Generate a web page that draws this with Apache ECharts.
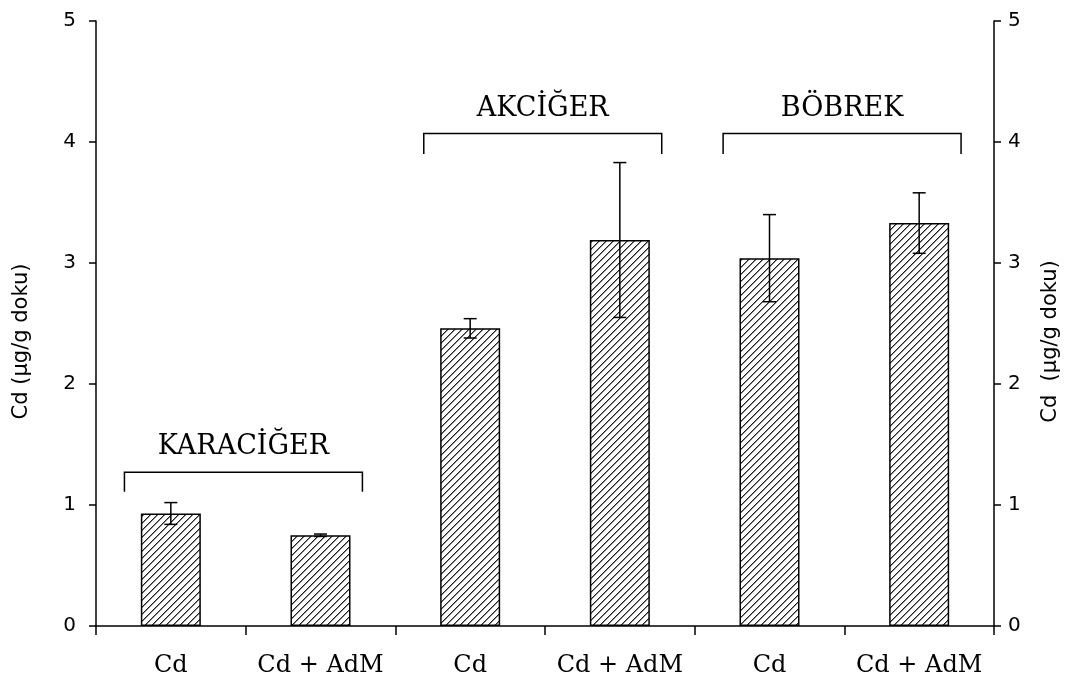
<!DOCTYPE html>
<html>
<head>
<meta charset="utf-8">
<script src="https://cdn.jsdelivr.net/npm/echarts@6/dist/echarts.min.js"></script>
<style>
  html, body { margin: 0; padding: 0; background: #fff; }
  #chart { width: 1070px; height: 684px; }
</style>
</head>
<body>
<div id="chart"></div>
<script>
// Cd concentration per tissue, with and without AdM
const categories = ['Cd', 'Cd + AdM', 'Cd', 'Cd + AdM', 'Cd', 'Cd + AdM'];
const cdMeans = [0.93, 0.75, 2.46, 3.19, 3.04, 3.33];
const cdErrors = [0.09, 0.01, 0.08, 0.64, 0.36, 0.25];
const yTicks = [0, 1, 2, 3, 4, 5];

// Tissue groups: name, first/last bar index, bracket level and foot (data units)
const tissueNames = ['KARACİĞER', 'AKCİĞER', 'BÖBREK'];
const tissueFirst = [0, 2, 4];
const tissueLast = [1, 3, 5];
const bracketLevel = [1.27, 4.07, 4.07];
const bracketFoot = [1.11, 3.90, 3.90];

// Diagonal "/" hatch tile for bar fill
function hatchTile() {
  const s = 7;
  const c = document.createElement('canvas');
  c.width = s; c.height = s;
  const g = c.getContext('2d');
  g.fillStyle = '#fff';
  g.fillRect(0, 0, s, s);
  for (let x = 0; x < s; x++) {
    const y = s - 1 - x;
    g.fillStyle = '#222';
    g.fillRect(x, y, 1, 1);
    g.fillStyle = '#888';
    g.fillRect(x, (y + 1) % s, 1, 1);
  }
  return c;
}

const chart = echarts.init(document.getElementById('chart'), null, { renderer: 'canvas' });

const black = '#000';
const axisCommon = {
  type: 'value',
  min: yTicks[0],
  max: yTicks[yTicks.length - 1],
  interval: 1,
  splitLine: { show: false },
  axisLine: { show: true, lineStyle: { color: black, width: 1.5 } },
  axisTick: { show: true, inside: false, length: 7, lineStyle: { color: black, width: 1.5 } },
  nameLocation: 'middle',
  nameRotate: 90,
  nameTextStyle: { color: black, fontFamily: 'DejaVu Sans', fontSize: 21, padding: [0, 36, 0, 0] }
};

const errorData = cdMeans.map((m, i) => [i, m - cdErrors[i], m + cdErrors[i]]);
const bracketData = tissueNames.map((n, i) => [tissueFirst[i], tissueLast[i], bracketLevel[i], bracketFoot[i]]);

chart.setOption({
  backgroundColor: '#fff',
  animation: false,
  grid: { left: 96, right: 76, top: 21, bottom: 58 },
  xAxis: {
    type: 'category',
    data: categories,
    boundaryGap: true,
    axisLine: { show: true, lineStyle: { color: black, width: 1.5 } },
    axisTick: { show: true, length: 9, lineStyle: { color: black, width: 1.5 } },
    axisLabel: { interval: 0, color: black, fontFamily: 'DejaVu Serif', fontSize: 24, margin: 28 }
  },
  yAxis: [
    Object.assign({}, axisCommon, {
      position: 'left',
      name: 'Cd (µg/g doku)',
      nameGap: 64,
      axisLabel: { color: black, fontFamily: 'DejaVu Sans', fontSize: 20, margin: 20 }
    }),
    Object.assign({}, axisCommon, {
      position: 'right',
      name: 'Cd  (µg/g doku)',
      nameGap: 46,
      axisLabel: { color: black, fontFamily: 'DejaVu Sans', fontSize: 20, margin: 14 }
    })
  ],
  series: [
    {
      type: 'bar',
      data: cdMeans,
      barWidth: 60,
      itemStyle: {
        color: { image: hatchTile(), repeat: 'repeat' },
        borderColor: black,
        borderWidth: 1.5
      },
      z: 2
    },
    {
      type: 'custom',
      data: errorData,
      encode: { x: 0, y: [1, 2] },
      z: 5,
      renderItem: function (params, api) {
        const x = api.value(0);
        const top = api.coord([x, api.value(2)]);
        const bot = api.coord([x, api.value(1)]);
        const hw = 6.5;
        const st = { stroke: black, lineWidth: 1.5 };
        return {
          type: 'group',
          children: [
            { type: 'line', shape: { x1: top[0], y1: top[1], x2: bot[0], y2: bot[1] }, style: st },
            { type: 'line', shape: { x1: top[0] - hw, y1: top[1], x2: top[0] + hw, y2: top[1] }, style: st },
            { type: 'line', shape: { x1: bot[0] - hw, y1: bot[1], x2: bot[0] + hw, y2: bot[1] }, style: st }
          ]
        };
      }
    },
    {
      type: 'custom',
      data: bracketData,
      encode: { x: [0, 1], y: [2, 3] },
      z: 5,
      renderItem: function (params, api) {
        const band = api.size([1, 0])[0];
        const a = api.coord([api.value(0), api.value(2)]);
        const b = api.coord([api.value(1), api.value(2)]);
        const foot = api.coord([api.value(0), api.value(3)])[1];
        const x1 = a[0] - 0.31 * band;
        const x2 = b[0] + 0.28 * band;
        const y = a[1];
        const st = { stroke: black, lineWidth: 1.5, fill: null };
        return {
          type: 'group',
          children: [
            { type: 'polyline', shape: { points: [[x1, foot], [x1, y], [x2, y], [x2, foot]] }, style: st },
            {
              type: 'text',
              style: {
                text: tissueNames[params.dataIndex],
                x: (x1 + x2) / 2,
                y: y - 25,
                align: 'center',
                verticalAlign: 'middle',
                font: '27px "DejaVu Serif"',
                fill: black
              }
            }
          ]
        };
      }
    }
  ]
});
</script>
</body>
</html>
